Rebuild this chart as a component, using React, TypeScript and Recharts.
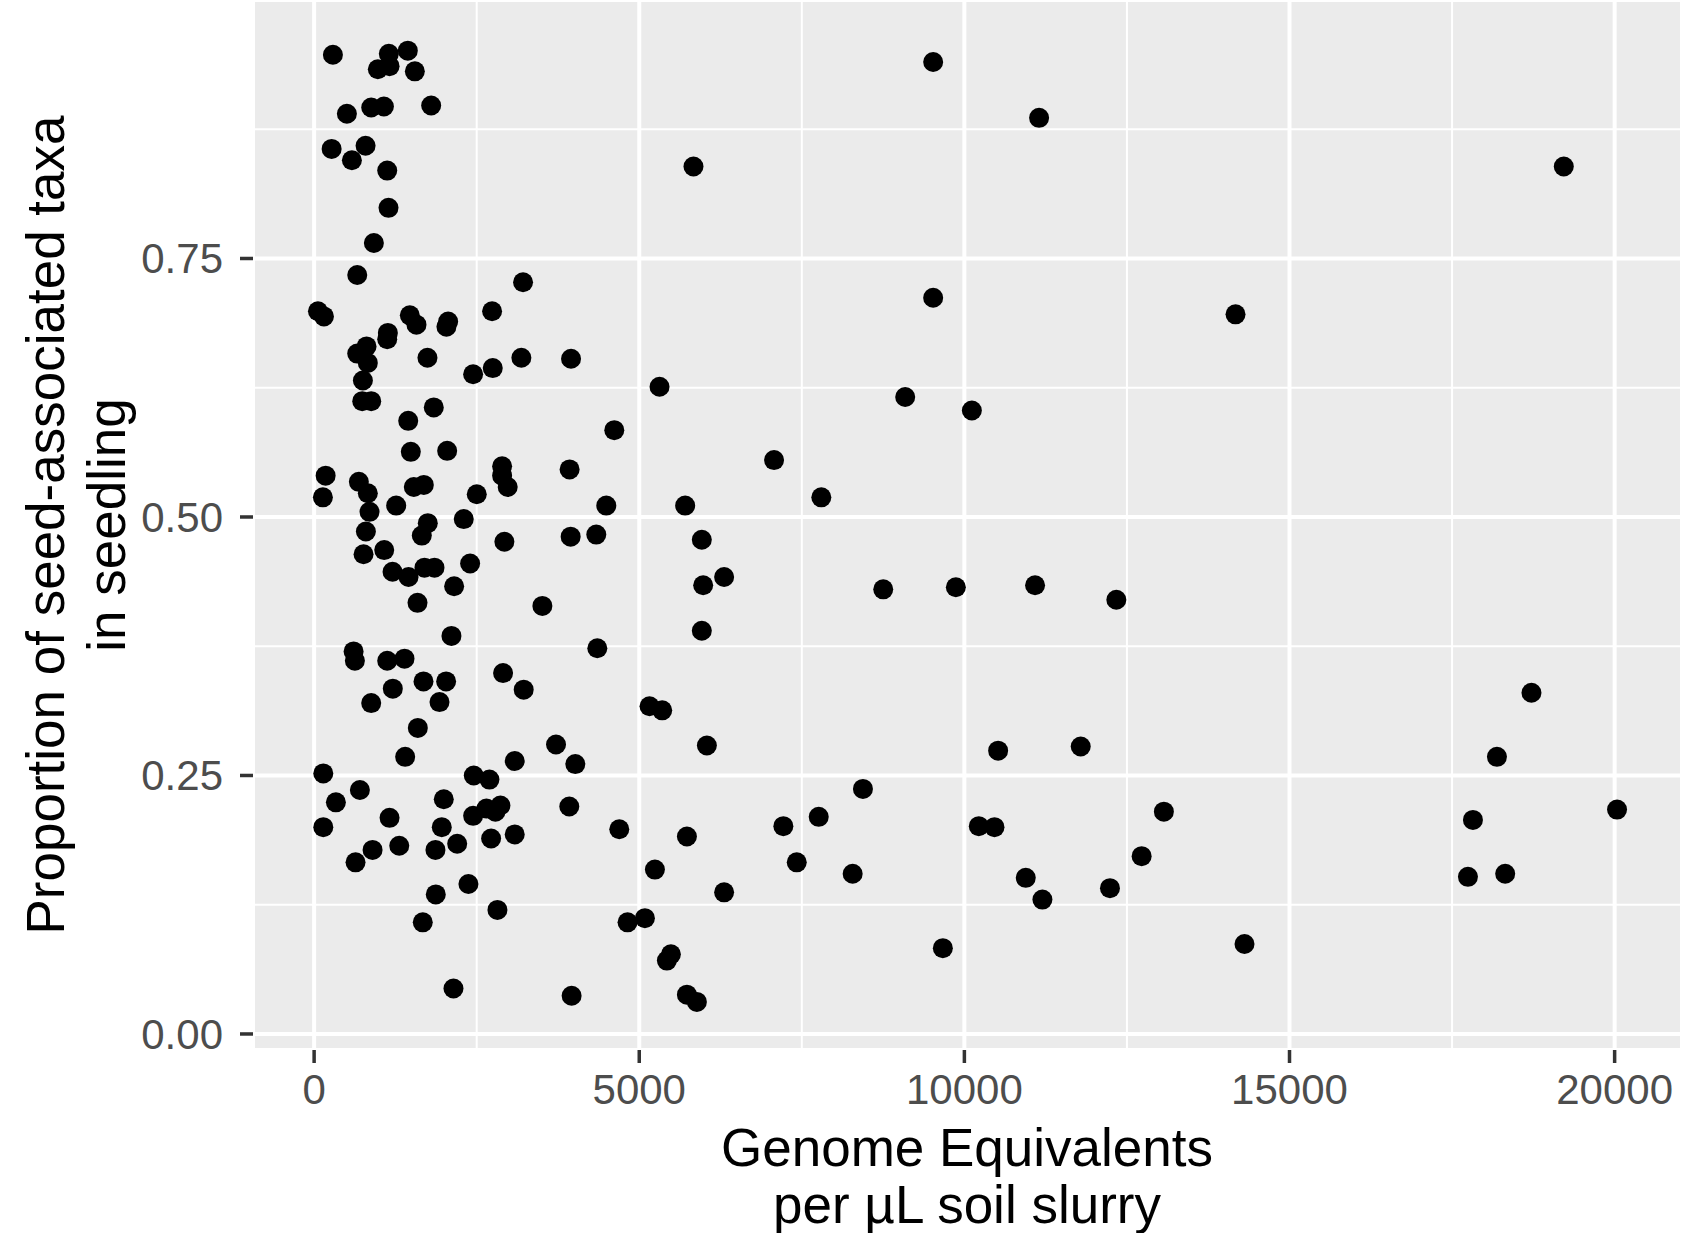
import {
  ScatterChart,
  Scatter,
  XAxis,
  YAxis,
  CartesianGrid,
  ReferenceLine,
} from "recharts";

// Genome equivalents per µL soil slurry (x)
const genomeEquivalents = [
  289, 980, 1149, 1160, 1441, 1549,
  504, 878, 1073, 1800, 269, 791, 581, 1124,
  1144, 919, 663, 59, 151, 1472, 1574, 2061, 2035,
  1134, 1124, 2737, 3213,
  806, 663, 826, 1743, 2445, 2747, 3187,
  750, 740, 878, 1840, 1447, 1487, 2046,
  2891, 2891, 2977, 177, 135, 688, 826,
  1533, 1687, 2501, 852, 1262, 2301, 1748,
  1656, 796, 2926, 760, 1078, 1206, 1452,
  1697, 1851, 2399, 2153, 1590, 2112,
  607, 627, 1124, 1390, 2906,
  3223, 1210, 1682, 2030, 878, 1928, 1595,
  3085, 1400, 141, 2455, 2696, 704, 335,
  1994, 1160, 141, 2445, 2650, 2865, 2788,
  1963, 3085, 2722, 2200, 1866, 1309, 899,
  637, 2373, 1871, 2819, 1671, 2143,
  5834, 3951, 5312, 4616, 3929, 4493, 5706,
  3945, 4339, 5962, 6305, 5983, 3510, 5962, 4355,
  5158, 5353, 6040, 3720, 4017, 3924, 4693,
  5733, 5241, 6305, 4820, 5087, 5487, 5425,
  3960, 5733, 5886,
  9520, 11149, 19218, 9520, 14170, 9090, 10115,
  7073, 7800, 8752, 9869, 11087, 12337,
  18721, 10519, 11789, 18190, 8440, 13068, 20037,
  17821, 7760, 7216, 10222, 10463, 7422, 12726,
  8282, 10944, 11200, 12239, 17744, 18317, 9669, 14308,
];

// Proportion of seed-associated taxa in seedling (y)
const seedProportion = [
  0.947, 0.933, 0.948, 0.936, 0.951, 0.931,
  0.89, 0.896, 0.897, 0.898, 0.856, 0.859, 0.845, 0.835,
  0.799, 0.765, 0.734, 0.699, 0.694, 0.695, 0.686, 0.689, 0.684,
  0.678, 0.672, 0.699, 0.727,
  0.665, 0.658, 0.649, 0.654, 0.638, 0.644, 0.654,
  0.632, 0.612, 0.612, 0.606, 0.593, 0.563, 0.564,
  0.549, 0.54, 0.529, 0.54, 0.519, 0.534, 0.523,
  0.529, 0.531, 0.522, 0.505, 0.511, 0.498, 0.494,
  0.482, 0.486, 0.476, 0.464, 0.468, 0.447, 0.442,
  0.451, 0.451, 0.455, 0.433, 0.417, 0.385,
  0.37, 0.361, 0.361, 0.363, 0.349,
  0.333, 0.334, 0.341, 0.341, 0.32, 0.321, 0.296,
  0.264, 0.268, 0.252, 0.25, 0.246, 0.236, 0.224,
  0.227, 0.209, 0.2, 0.211, 0.218, 0.221, 0.215,
  0.2, 0.193, 0.189, 0.184, 0.178, 0.182, 0.178,
  0.166, 0.145, 0.135, 0.12, 0.108, 0.044,
  0.839, 0.653, 0.626, 0.584, 0.546, 0.511, 0.511,
  0.481, 0.483, 0.478, 0.442, 0.434, 0.414, 0.39, 0.373,
  0.317, 0.313, 0.279, 0.28, 0.261, 0.22, 0.198,
  0.191, 0.159, 0.137, 0.108, 0.112, 0.077, 0.071,
  0.037, 0.038, 0.031,
  0.94, 0.886, 0.839, 0.712, 0.696, 0.616, 0.603,
  0.555, 0.519, 0.43, 0.432, 0.434, 0.42,
  0.33, 0.274, 0.278, 0.268, 0.237, 0.215, 0.217,
  0.207, 0.21, 0.201, 0.201, 0.2, 0.166, 0.172,
  0.155, 0.151, 0.13, 0.141, 0.152, 0.155, 0.083, 0.087,
];

const xTicks = [0, 5000, 10000, 15000, 20000];
const yTicks = [0, 0.25, 0.5, 0.75];
const xMinor = [2500, 7500, 12500, 17500];
const yMinor = [0.125, 0.375, 0.625, 0.875];

const data = genomeEquivalents.map((x, i) => ({ x, y: seedProportion[i] }));

const FONT = '"Liberation Sans", Arial, Helvetica, sans-serif';

const Dot = (props: any) => <circle cx={props.cx} cy={props.cy} r={10} fill="#000000" />;

const xTitle = () => (
  <g fontFamily={FONT} fontSize={53} fill="#000000" textAnchor="middle">
    <text x={967} y={1166}>Genome Equivalents</text>
    <text x={967} y={1223}>per µL soil slurry</text>
  </g>
);

const yTitle = () => (
  <g fontFamily={FONT} fontSize={53} fill="#000000" textAnchor="middle">
    <text x={64} y={525} transform="rotate(-90, 64, 525)">
      Proportion of seed-associated taxa
    </text>
    <text x={125} y={525} transform="rotate(-90, 125, 525)">
      in seedling
    </text>
  </g>
);

export default function App() {
  return (
    <div style={{ position: "absolute", left: 0, top: 0, width: 1682, height: 1233, background: "#fff" }}>
      <ScatterChart width={1682} height={1233} margin={{ top: 0, right: 0, bottom: 0, left: 0 }}>
        <CartesianGrid stroke="#FFFFFF" strokeWidth={4} fill="#EBEBEB" fillOpacity={1} />
        {xMinor.map((v) => (
          <ReferenceLine key={"x" + v} x={v} stroke="#FFFFFF" strokeWidth={2} />
        ))}
        {yMinor.map((v) => (
          <ReferenceLine key={"y" + v} y={v} stroke="#FFFFFF" strokeWidth={2} />
        ))}
        <XAxis
          type="number"
          dataKey="x"
          domain={[-940, 21036]}
          allowDataOverflow
          ticks={xTicks}
          height={183}
          axisLine={false}
          tickSize={13}
          tickMargin={11}
          tickLine={{ stroke: "#333333", strokeWidth: 3.5 }}
          tick={{ fill: "#4D4D4D", fontSize: 42, fontFamily: FONT }}
          label={xTitle}
        />
        <YAxis
          type="number"
          dataKey="y"
          domain={[-0.0155, 1.0]}
          allowDataOverflow
          ticks={yTicks}
          width={253}
          axisLine={false}
          tickSize={13}
          tickMargin={17}
          tickFormatter={(v: number) => v.toFixed(2)}
          tickLine={{ stroke: "#333333", strokeWidth: 3.5 }}
          tick={{ fill: "#4D4D4D", fontSize: 42, fontFamily: FONT }}
          label={yTitle}
        />
        <Scatter data={data} shape={Dot} isAnimationActive={false} />
      </ScatterChart>
    </div>
  );
}
